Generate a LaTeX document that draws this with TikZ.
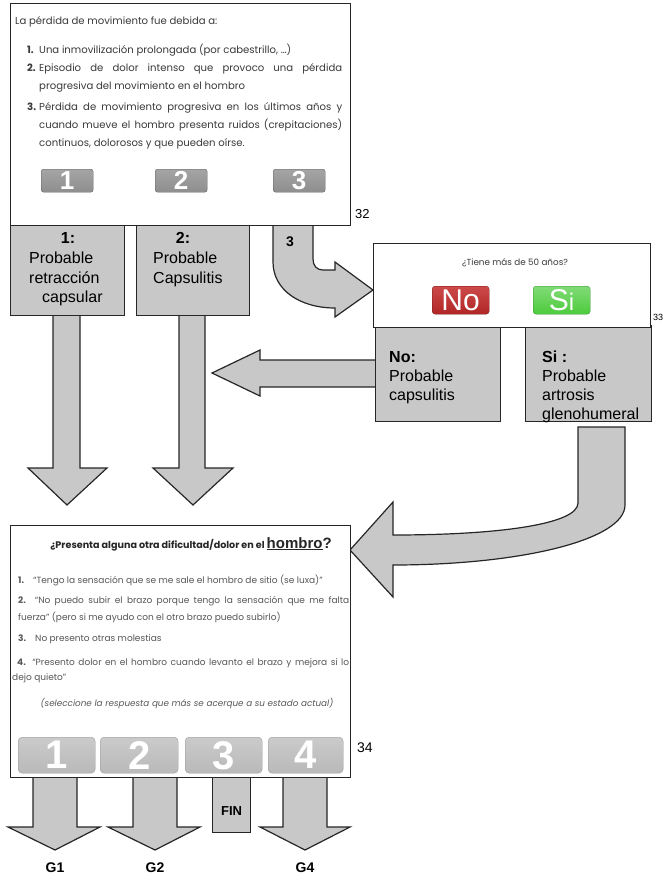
\documentclass[tikz,border=0pt]{standalone}
\usepackage{fontspec}
\setmainfont{Liberation Sans}
\newfontfamily\gothic{Poppins}
\usetikzlibrary{positioning}

\definecolor{boxgray}{HTML}{C8C8C8}
\definecolor{inkgray}{HTML}{3A3A3A}
\definecolor{btndark}{HTML}{8E8E8E}
\definecolor{btnlight}{HTML}{B9B9B9}
\definecolor{nored}{HTML}{C42A2A}
\definecolor{sigreen}{HTML}{4CCB3C}

\tikzset{
  outline/.style={draw=black!85, line width=1.2pt},
  sheet/.style={outline, fill=white, anchor=north west, inner sep=0pt},
  greybox/.style={outline, fill=boxgray, anchor=north west, inner sep=0pt},
  bigarrow/.style={outline, fill=boxgray, line join=miter},
  bodytext/.style={anchor=base west, inner sep=0pt, text=inkgray,
    font=\gothic\fontsize{10.1}{18}\selectfont},
  bodynum/.style={bodytext, font=\gothic\bfseries\fontsize{10.1}{18}\selectfont},
  smalltext/.style={anchor=base west, inner sep=0pt, text=inkgray!85,
    font=\gothic\fontsize{9}{16}\selectfont},
  boxtext/.style={anchor=base west, inner sep=0pt,
    font=\fontsize{16}{19}\selectfont},
  boxhead/.style={boxtext, font=\bfseries\fontsize{16}{19}\selectfont},
  tag/.style={anchor=base west, inner sep=0pt, font=\fontsize{13}{13}\selectfont},
  darkbtn/.style={rounded corners=2.5pt, top color=btndark!80, bottom color=btndark,
    draw=btndark!70!black, line width=0.4pt, anchor=north west, inner sep=0pt,
    minimum width=52pt, minimum height=23pt, text=white,
    font=\bfseries\fontsize{26}{26}\selectfont},
  lightbtn/.style={rounded corners=4pt, top color=btnlight!75, bottom color=btnlight,
    draw=btnlight!80!black, line width=0.3pt, anchor=north west, inner sep=0pt,
    minimum height=36pt, text=white, text depth=0pt,
    font=\bfseries\fontsize{40}{40}\selectfont},
  answer/.style={rounded corners=3pt, anchor=north west, inner sep=0pt,
    minimum width=57pt, minimum height=28pt, text=white, line width=0.3pt,
    font=\fontsize{30}{30}\selectfont},
  label/.style={anchor=base, inner sep=0pt, font=\bfseries\fontsize{14}{14}\selectfont}
}

\begin{document}
\begin{tikzpicture}[x=1pt, y=-1pt]
  \useasboundingbox (0,0) rectangle (667,881);

  % arrows behind the boxes
  \draw[bigarrow] (53,310) -- (53,468) -- (28,468) -- (67,505) -- (107,468) -- (80,468) -- (80,310) -- cycle;
  \draw[bigarrow] (179,310) -- (179,468) -- (153,468) -- (193,505) -- (233,468) -- (205,468) -- (205,310) -- cycle;
  \draw[bigarrow] (273,220) -- (273,262) .. controls (273,290) and (300,308) .. (335,308)
    -- (335,317) -- (373,290) -- (335,262) -- (335,270) -- (323,270)
    .. controls (317,270) and (313,266) .. (313,259) -- (313,220) -- cycle;
  \draw[bigarrow] (380,360) -- (260,360) -- (260,350) -- (212,373) -- (260,396) -- (260,387) -- (380,387) -- cycle;
  \draw[bigarrow] (578,427) -- (578,503) .. controls (578,524) and (500,535) .. (393,535)
    -- (393,502) -- (350,550) -- (393,597) -- (393,565)
    .. controls (520,565) and (625,540) .. (625,505) -- (625,427) -- cycle;

  % question 32
  \node[greybox, minimum width=114pt, minimum height=92pt] (r1) at (10,223) {};
  \node[greybox, minimum width=113pt, minimum height=92pt] (r2) at (136,223) {};
  \node[sheet, minimum width=340pt, minimum height=222pt] (q32) at (10,3) {};
  \node[tag] (n32) at (355,218) {32};

  \node[bodytext] (intro) at (15,24) {La pérdida de movimiento fue debida a:};
  \node[bodynum] (i1) at (27,53) {1.};
  \node[bodytext] (t1) at (39,53) {Una inmovilización prolongada (por cabestrillo, …)};
  \node[bodynum] (i2) at (27,71) {2.};
  \node[bodytext] (t2a) at (39,71) {\makebox[303pt][s]{Episodio de dolor intenso que provoco una pérdida}};
  \node[bodytext] (t2b) at (39,89) {progresiva del movimiento en el hombro};
  \node[bodynum] (i3) at (27,110) {3.};
  \node[bodytext] (t3a) at (39,110) {\makebox[303pt][s]{Pérdida de movimiento progresiva en los últimos años y}};
  \node[bodytext] (t3b) at (39,128) {\makebox[303pt][s]{cuando mueve el hombro presenta ruidos (crepitaciones)}};
  \node[bodytext] (t3c) at (39,146) {continuos, dolorosos y que pueden oírse.};

  \node[darkbtn] (b1) at (41,169) {1};
  \node[darkbtn] (b2) at (155,169) {2};
  \node[darkbtn] (b3) at (273,169) {3};

  \node[boxhead, anchor=base] (l1) at (68,243) {1:};
  \node[boxtext] (p1a) at (29,263) {Probable};
  \node[boxtext] (p1b) at (29,283) {retracción};
  \node[boxtext] (p1c) at (42,302) {capsular};
  \node[boxhead, anchor=base] (l2) at (183,243) {2:};
  \node[boxtext] (p2a) at (153,263) {Probable};
  \node[boxtext] (p2b) at (153,283) {Capsulitis};
  \node[tag, font=\bfseries\fontsize{14}{14}\selectfont] (l3) at (286,246) {3};

  % question 33
  \node[greybox, minimum width=125pt, minimum height=96pt] (rno) at (375,325) {};
  \node[greybox, minimum width=126pt, minimum height=96pt] (rsi) at (525,325) {};
  \node[sheet, minimum width=277pt, minimum height=84pt] (q33) at (373,243) {};
  \node[tag, font=\fontsize{9}{9}\selectfont] (n33) at (653,320) {33};
  \node[anchor=base, inner sep=0pt, text=inkgray, font=\gothic\fontsize{8.8}{10}\selectfont] (ask) at (515,265) {¿Tiene más de 50 años?};
  \node[answer, top color=nored!85, bottom color=nored!90!black, draw=nored!60!black] (no) at (432,286) {No};
  \node[answer, top color=sigreen!70, bottom color=sigreen, draw=sigreen!70!black] (si) at (533,286)
    {S{\fontsize{24}{24}\selectfont i}};

  \node[boxhead] (hno) at (389,362) {No:};
  \node[boxtext] (pno1) at (389,381) {Probable};
  \node[boxtext] (pno2) at (389,400) {capsulitis};
  \node[boxhead] (hsi) at (542,362) {Si :};
  \node[boxtext] (psi1) at (542,381) {Probable};
  \node[boxtext] (psi2) at (542,400) {artrosis};
  \node[boxtext] (psi3) at (542,419) {glenohumeral};

  % question 34
  \draw[bigarrow] (33,772) -- (33,827) -- (8,827) -- (55,850) -- (100,827) -- (77,827) -- (77,772) -- cycle;
  \draw[bigarrow] (133,772) -- (133,827) -- (108,827) -- (155,850) -- (200,827) -- (177,827) -- (177,772) -- cycle;
  \node[greybox, minimum width=38pt, minimum height=57pt] (fin) at (212,775) {};
  \draw[bigarrow] (283,772) -- (283,827) -- (260,827) -- (305,850) -- (350,827) -- (327,827) -- (327,772) -- cycle;
  \node[sheet, minimum width=340pt, minimum height=252pt] (q34) at (10,525) {};
  \node[tag, font=\fontsize{14}{14}\selectfont] (n34) at (357,752) {34};

  \node[anchor=base, inner sep=0pt, text=black!85, font=\gothic\bfseries\fontsize{9.6}{12}\selectfont] (head) at (191,548)
    {¿Presenta alguna otra dificultad/dolor en el {\normalfont\bfseries\fontsize{15}{15}\selectfont\underline{hombro}?}};
  \node[smalltext] (s1) at (18,583) {\textbf{1.}\quad “Tengo la sensación que se me sale el hombro de sitio (se luxa)”};
  \node[smalltext] (s2a) at (18,603) {\makebox[331pt][s]{\textbf{2.}\quad “No puedo subir el brazo porque tengo la sensación que me falta}};
  \node[smalltext] (s2b) at (18,620) {fuerza” (pero si me ayudo con el otro brazo puedo subirlo)};
  \node[smalltext] (s3) at (18,641) {\textbf{3.}\quad No presento otras molestias};
  \node[smalltext] (s4a) at (17,665) {\makebox[332pt][s]{\textbf{4.} “Presento dolor en el hombro cuando levanto el brazo y mejora si lo}};
  \node[smalltext] (s4b) at (12,680) {dejo quieto”};
  \node[smalltext, anchor=base, font=\gothic\itshape\fontsize{8.8}{10}\selectfont] (pick) at (187,706)
    {(seleccione la respuesta que más se acerque a su estado actual)};

  \node[lightbtn, minimum width=77pt] (c1) at (18,737) {1};
  \node[lightbtn, minimum width=78pt] (c2) at (100,737) {2};
  \node[lightbtn, minimum width=77pt] (c3) at (185,737) {3};
  \node[lightbtn, minimum width=75pt] (c4) at (268,737) {4};

  \node[label, font=\bfseries\fontsize{13}{13}\selectfont] (end) at (fin.center |- 0,815) {FIN};
  \node[label] (g1) at (55,872) {G1};
  \node[label] (g2) at (155,872) {G2};
  \node[label] (g4) at (305,872) {G4};
\end{tikzpicture}
\end{document}
